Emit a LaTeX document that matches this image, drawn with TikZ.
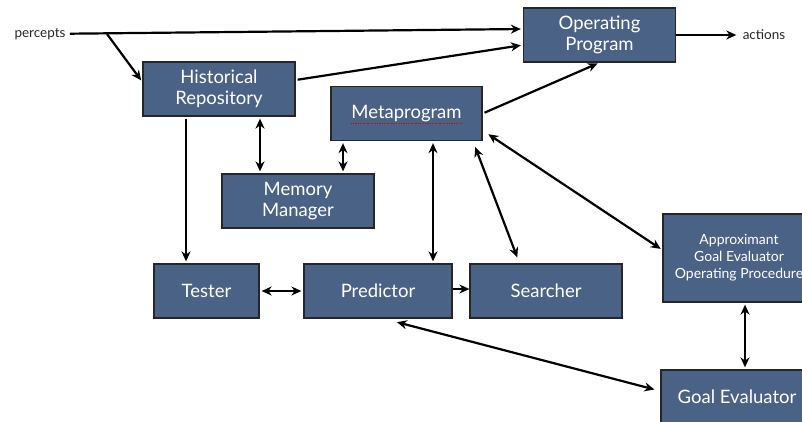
\documentclass[tikz,border=0pt]{standalone}
\usepackage{fontspec}
\setmainfont{Lato}
\usetikzlibrary{positioning,arrows.meta}

\definecolor{slate}{HTML}{4A6285}
\definecolor{inkgray}{HTML}{262626}

\begin{document}
\begin{tikzpicture}[
        x = 1pt, y = -1pt, % work in points, y going down
        > = {Stealth[length=10pt,width=9pt]}, % arrow head style
        shorten > = 2pt, % keep heads off the boxes
        shorten < = 2pt,
        line width = 2.2pt, % line style
        node distance = 2cm
      ]

      \tikzstyle{block}=[rectangle,draw=black!85,line width=1.3pt,fill=slate,
        text=white,align=center,font=\fontsize{18.5}{21.5}\selectfont,
        minimum width=152pt,minimum height=54pt,inner sep=0pt]
      \tikzstyle{tag}=[text=inkgray,font=\fontsize{13.5}{15}\selectfont]

      \useasboundingbox (0,0) rectangle (802,421);
      \clip (0,0) rectangle (802,421);

      \node[tag] (percepts) at (40,34) {percepts};
      \node[block] (op) at (599.5,35) {Operating\\Program};
      \node[tag] (actions) at (764,35) {actions};
      \node[block] (hist) at (219,89) {Historical\\Repository};
      \node[block,minimum width=151pt] (meta) at (406.5,113.5) {Metaprogram};
      \node[block] (mem) at (298,201) {Memory\\Manager};
      \node[block,minimum width=105pt] (tester) at (206.5,291) {Tester};
      \node[block,minimum width=148pt] (pred) [right of=tester, node distance=171.5pt] {Predictor};
      \node[block] (search) [right of=pred, node distance=168pt] {Searcher};
      \node[block,minimum height=88pt,font=\fontsize{14}{17}\selectfont] (approx) at (739,258)
        {Approximant\\Goal Evaluator\\Operating Procedure};
      \node[block] (goal) at (737,397) {Goal Evaluator};

      % spell-check squiggle under Metaprogram
      \draw[red!85!black,line width=1pt,dash pattern=on 1.2pt off 1.2pt,shorten <=0pt,shorten >=0pt]
        ([xshift=-56pt,yshift=-9.5pt]meta.center) -- ([xshift=56pt,yshift=-9.5pt]meta.center);

      % input and output
      \coordinate (split) at (107,34);
      \draw[->,shorten <=0pt] (percepts) -- ([yshift=6pt]op.west);
      \draw[->,shorten <=0pt] (split) -- ([yshift=7pt]hist.west);
      \draw[->] ([yshift=9pt]hist.east) -- ([yshift=-10pt]op.west);
      \draw[->] (meta.east) -- (op.south);
      \draw[->,shorten <=0pt] (op.east) -- (actions.west);

      % repository and memory
      \draw[->] ([xshift=-33pt]hist.south) -- ([xshift=-33pt]hist.south |- tester.north);
      \draw[<->] ([xshift=41pt]hist.south) -- ([xshift=41pt]hist.south |- mem.north);
      \draw[<->] ([xshift=-63.5pt]meta.south) -- ([xshift=-63.5pt]meta.south |- mem.north);

      % metaprogram links
      \draw[<->] ([xshift=26.5pt]meta.south) -- ([xshift=26.5pt]meta.south |- pred.north);
      \draw[<->] ([xshift=68pt,yshift=-4pt]meta.south) -- ([xshift=-28pt,yshift=4pt]search.north);
      \draw[<->] ([xshift=4pt,yshift=8pt]meta.south east) -- ([yshift=8pt]approx.west);

      % bottom row
      \draw[<->] (tester.east) -- (pred.west);
      \draw[->,shorten <=0pt,shorten >=0pt] ([yshift=2pt]pred.east) -- ([yshift=2pt]search.west);
      \draw[<->] ([xshift=17pt,yshift=-3pt]pred.south) -- ([xshift=-4pt,yshift=7pt]goal.west);
      \draw[<->] ([xshift=6pt]approx.south) -- ([xshift=6pt]approx.south |- goal.north);

    \end{tikzpicture}
\end{document}
